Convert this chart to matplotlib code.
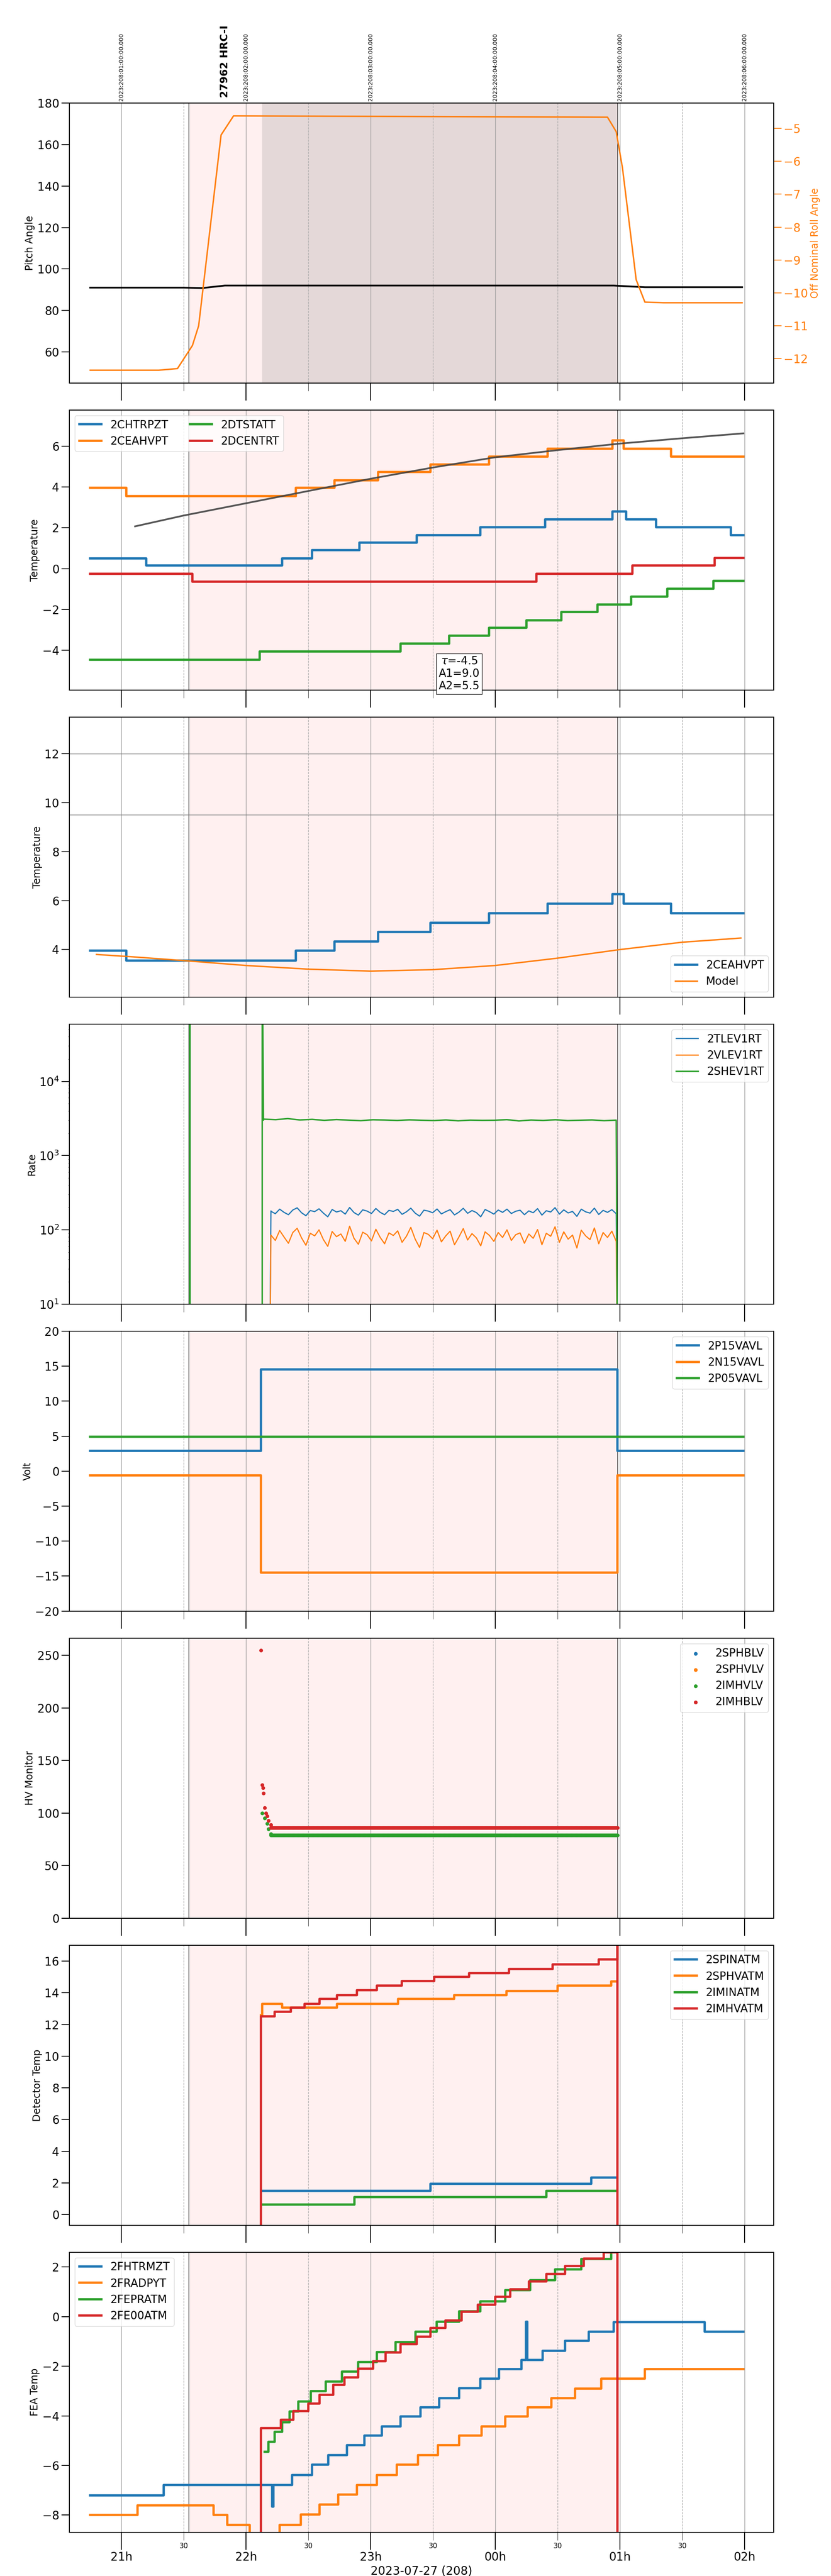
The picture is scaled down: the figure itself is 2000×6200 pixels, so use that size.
import numpy as np
import matplotlib
matplotlib.use("Agg")
import matplotlib.pyplot as plt

# time axis in hours (24 = 00h next day)
T0, T1 = 20.583, 26.233
HOURS = [21, 22, 23, 24, 25, 26]
HOUR_LABELS = ["21h", "22h", "23h", "00h", "01h", "02h"]
HALF_HOURS = [21.5, 22.5, 23.5, 24.5, 25.5]
TOP_LABELS = ["2023:208:01:00:00.000", "2023:208:02:00:00.000", "2023:208:03:00:00.000",
              "2023:208:04:00:00.000", "2023:208:05:00:00.000", "2023:208:06:00:00.000"]
OBS_START, OBS_END, SCI_START = 21.54, 24.98, 22.13

# panel 1: pitch / roll
pitch_t = [20.75, 21.5, 21.65, 21.83, 24.95, 25.2, 25.98]
pitch_v = [91.0, 91.0, 90.8, 92.0, 92.0, 91.2, 91.2]
roll_t = [20.75, 21.3, 21.45, 21.57, 21.62, 21.8, 21.9, 24.9, 24.97, 25.02, 25.13, 25.2, 25.35, 25.98]
roll_v = [-12.35, -12.35, -12.3, -11.6, -11.0, -5.2, -4.62, -4.66, -5.1, -6.2, -9.6, -10.28, -10.3, -10.3]

# panel 2: temperatures (step change times, levels)
chtrpzt_t = [20.75, 21.2, 22.29, 22.53, 22.91, 23.37, 23.88, 24.40, 24.94, 25.05, 25.29, 25.89, 25.99]
chtrpzt_v = [0.5, 0.15, 0.5, 0.9, 1.27, 1.65, 2.03, 2.42, 2.8, 2.42, 2.03, 1.65, 1.65]
ceahvpt_t = [20.75, 21.04, 22.40, 22.71, 23.06, 23.48, 23.95, 24.42, 24.94, 25.03, 25.41, 25.99]
ceahvpt_v = [3.95, 3.55, 3.95, 4.33, 4.72, 5.1, 5.48, 5.87, 6.27, 5.87, 5.48, 5.48]
dtstatt_t = [20.75, 22.11, 23.24, 23.63, 23.95, 24.25, 24.53, 24.82, 25.09, 25.38, 25.75, 25.99]
dtstatt_v = [-4.45, -4.05, -3.67, -3.28, -2.9, -2.52, -2.13, -1.75, -1.37, -0.98, -0.6, -0.6]
dcentrt_t = [20.75, 21.57, 24.33, 25.10, 25.76, 25.99]
dcentrt_v = [-0.25, -0.63, -0.25, 0.15, 0.52, 0.52]
fit_t = [21.11, 21.5, 22.0, 22.5, 23.0, 23.5, 24.0, 24.5, 25.0, 25.5, 25.99]
fit_v = [2.07, 2.6, 3.2, 3.8, 4.4, 4.95, 5.45, 5.8, 6.12, 6.38, 6.62]

# panel 3: model
model_t = [20.8, 21.1, 21.5, 22.0, 22.5, 23.0, 23.5, 24.0, 24.5, 25.0, 25.5, 25.97]
model_v = [3.8, 3.7, 3.55, 3.35, 3.2, 3.12, 3.18, 3.35, 3.65, 4.0, 4.3, 4.47]

# panel 4: rates (hand-read samples)
tlev = [178, 165, 190, 172, 160, 185, 198, 170, 155, 182, 176, 192, 168, 150, 188, 174, 181, 163, 200, 171,
        158, 186, 179, 166, 194, 172, 160, 183, 177, 189, 162, 175, 196, 168, 153, 184, 179, 170, 191, 164,
        176, 187, 159, 173, 195, 167, 182, 171, 150, 188, 176, 163, 185, 172, 190, 166, 178, 184, 160, 180,
        170, 193, 158, 181, 174, 199, 163, 186, 169, 177, 152, 190, 175, 168, 196, 161, 183, 172, 187, 165]
vlev = [85, 72, 98, 80, 66, 92, 105, 78, 62, 90, 83, 100, 74, 60, 95, 81, 88, 70, 112, 77,
        64, 93, 86, 71, 102, 79, 65, 91, 84, 97, 68, 82, 108, 75, 58, 92, 87, 76, 99, 69,
        83, 96, 63, 80, 104, 73, 89, 78, 61, 94, 84, 70, 92, 79, 100, 72, 86, 91, 66, 88,
        77, 101, 63, 90, 82, 110, 68, 94, 75, 85, 57, 99, 83, 74, 106, 65, 92, 79, 96, 70]
shev = [3100, 3050, 3150, 3020, 3080, 2980, 3060, 3000, 2950, 3040, 3010, 2970, 3030, 2990, 2960, 3020, 2940, 3000,
        2980, 2990, 3050, 2930, 3010, 2970, 3040, 2960, 2990, 3020, 2950, 3000]

# panel 5: voltages
volt_t = [20.75, 22.12, 24.98, 25.99]
p15 = [2.9, 14.5, 2.9, 2.9]
n15 = [-0.6, -14.5, -0.6, -0.6]
p05 = [4.9, 4.9, 4.9, 4.9]

# panel 6: HV monitor
imhb_t = [22.12, 22.13, 22.135, 22.14, 22.15, 22.16, 22.17, 22.18, 22.2]
imhb_v = [255, 127, 124, 119, 105, 100, 97, 93, 89]
imhv_t = [22.13, 22.15, 22.17, 22.18, 22.2]
imhv_v = [100, 95, 90, 85, 80]
IMHB_LEVEL, IMHV_LEVEL = 86, 79

# panel 7: detector temps
imhvatm_t = [22.12, 22.12, 22.23, 22.36, 22.47, 22.59, 22.73, 22.89, 23.05, 23.25, 23.51, 23.79, 24.11, 24.46, 24.83, 24.97, 24.98, 24.98]
imhvatm_v = [-5, 12.5, 12.8, 13.05, 13.3, 13.6, 13.85, 14.15, 14.45, 14.75, 15.0, 15.25, 15.5, 15.8, 16.1, 16.1, 30, -5]
sphvatm_t = [22.12, 22.13, 22.29, 22.73, 23.22, 23.67, 24.09, 24.5, 24.93, 24.97]
sphvatm_v = [12.6, 13.3, 13.05, 13.3, 13.6, 13.85, 14.1, 14.45, 14.7, 14.7]
spinatm_t = [22.13, 23.48, 24.77, 24.97]
spinatm_v = [1.5, 1.95, 2.35, 2.35]
iminatm_t = [22.13, 22.87, 24.41, 24.97]
iminatm_v = [0.65, 1.1, 1.5, 1.5]

# panel 8: FEA temps
fhtrmzt_t = [20.75, 21.34, 22.20, 22.21, 22.22, 22.37, 22.53, 22.66, 22.81, 22.95, 23.09, 23.24, 23.40, 23.55, 23.71, 23.88,
             24.03, 24.21, 24.245, 24.255, 24.38, 24.56, 24.75, 24.95, 25.68, 25.99]
fhtrmzt_v = [-7.2, -6.78, -6.78, -7.65, -6.78, -6.38, -5.97, -5.58, -5.18, -4.8, -4.42, -4.03, -3.65, -3.28, -2.88, -2.5,
             -2.12, -1.75, -0.2, -1.75, -1.37, -0.98, -0.6, -0.22, -0.6, -0.6]
fradpyt_t = [20.75, 21.13, 21.74, 21.85, 22.03, 22.27, 22.44, 22.59, 22.74, 22.89, 23.05, 23.21, 23.38, 23.54, 23.71,
             23.89, 24.08, 24.26, 24.45, 24.64, 24.85, 25.2, 25.99]
fradpyt_v = [-8.0, -7.6, -8.0, -8.4, -8.8, -8.4, -7.97, -7.58, -7.18, -6.78, -6.38, -5.97, -5.58, -5.18, -4.8,
             -4.42, -4.03, -3.65, -3.28, -2.9, -2.5, -2.12, -2.12]
fepratm_t = [22.15, 22.18, 22.23, 22.29, 22.35, 22.42, 22.52, 22.64, 22.77, 22.9, 23.05, 23.2, 23.36, 23.53, 23.71,
             23.88, 24.08, 24.28, 24.48, 24.69, 24.93]
fepratm_v = [-5.45, -5.05, -4.65, -4.25, -3.82, -3.42, -3.0, -2.62, -2.22, -1.82, -1.42, -1.02, -0.6, -0.2, 0.22,
             0.62, 1.07, 1.48, 1.9, 2.32, 2.7]
fe00atm_t = [22.12, 22.12, 22.28, 22.38, 22.5, 22.59, 22.7, 22.79, 22.9, 23.02, 23.12, 23.24, 23.37, 23.48, 23.6,
             23.73, 23.86, 24.0, 24.12, 24.27, 24.41, 24.56, 24.71, 24.87, 24.97, 24.98, 24.98]
fe00atm_v = [-12, -4.5, -4.15, -3.8, -3.5, -3.15, -2.75, -2.45, -2.1, -1.8, -1.45, -1.1, -0.8, -0.45, -0.15,
             0.2, 0.48, 0.8, 1.1, 1.42, 1.72, 2.05, 2.35, 2.6, 2.6, 10, -12]

plt.rcParams["font.size"] = 18

fig, axes = plt.subplots(8, 1, figsize=(20, 62), dpi=100, sharex=True)
fig.subplots_adjust(left=0.0835, right=0.931, top=0.96, bottom=0.017, hspace=0.0965)

LAB = 17
LEG = 19


def decorate(ax, dark=False):
    ax.axvspan(OBS_START, OBS_END, color="#fff0f0", zorder=0)
    if dark:
        ax.axvspan(SCI_START, OBS_END, color="#e4d8d8", zorder=0)
    for h in HOURS:
        ax.axvline(h, color="#999999", lw=1, zorder=0.5)
    for h in HALF_HOURS:
        ax.axvline(h, color="#aaaaaa", lw=1, ls="--", zorder=0.5)
    ax.axvline(OBS_START, color="black", lw=0.8, zorder=0.6)
    ax.axvline(OBS_END, color="black", lw=0.8, zorder=0.6)
    ax.tick_params(axis="both", which="major", length=14, width=1.5, labelsize=20)
    ax.tick_params(axis="x", which="major", length=30)
    ax.tick_params(axis="x", which="minor", length=14, labelsize=12)
    for s in ax.spines.values():
        s.set_linewidth(1.5)


C = ["#1f77b4", "#ff7f0e", "#2ca02c", "#d62728"]

# panel 1
ax = axes[0]
decorate(ax, dark=True)
ax.plot(pitch_t, pitch_v, color="black", lw=3)
ax.set_ylim(45, 180)
ax.set_ylabel("Pitch Angle", fontsize=LAB)
ax2 = ax.twinx()
ax2.plot(roll_t, roll_v, color=C[1], lw=2.5)
ax2.set_ylim(-12.74, -4.23)
ax2.set_ylabel("Off Nominal Roll Angle", color=C[1], fontsize=LAB)
ax2.tick_params(axis="y", colors=C[1], length=14, width=1.5, labelsize=20)
top = ax.secondary_xaxis("top")
top.set_xticks(HOURS)
top.set_xticklabels(TOP_LABELS, rotation=90, fontsize=10)
top.tick_params(length=0)
ax.text(21.83, 1.02, "27962 HRC-I", transform=ax.get_xaxis_transform(), rotation=90,
        ha="center", va="bottom", fontsize=18, fontweight="bold")

# panel 2
ax = axes[1]
decorate(ax)
ax.step(chtrpzt_t, chtrpzt_v, where="post", color=C[0], lw=4, label="2CHTRPZT")
ax.step(ceahvpt_t, ceahvpt_v, where="post", color=C[1], lw=4, label="2CEAHVPT")
ax.step(dtstatt_t, dtstatt_v, where="post", color=C[2], lw=4, label="2DTSTATT")
ax.step(dcentrt_t, dcentrt_v, where="post", color=C[3], lw=4, label="2DCENTRT")
ax.plot(fit_t, fit_v, color="#444444", lw=3, alpha=0.9)
ax.set_ylim(-5.94, 7.76)
ax.set_ylabel("Temperature", fontsize=LAB)
ax.legend(loc="upper left", ncol=2, fontsize=LEG)
ax.text(23.71, -5.15, "$\\tau$=-4.5\nA1=9.0\nA2=5.5", ha="center", va="center", fontsize=19,
        bbox=dict(facecolor="white", edgecolor="black"), clip_on=False, zorder=5)

# panel 3
ax = axes[2]
decorate(ax)
ax.axhline(12, color="#777777", lw=1)
ax.axhline(9.5, color="#777777", lw=1)
ax.step(ceahvpt_t, ceahvpt_v, where="post", color=C[0], lw=4, label="2CEAHVPT")
ax.plot(model_t, model_v, color=C[1], lw=2.5, label="Model")
ax.set_ylim(2.06, 13.49)
ax.set_ylabel("Temperature", fontsize=LAB)
ax.legend(loc="lower right", fontsize=LEG)

# panel 4
ax = axes[3]
decorate(ax)
rt = np.linspace(22.2, 24.97, len(tlev))
st = np.linspace(22.14, 24.97, len(shev))
ax.plot(np.r_[22.19, 22.2, rt, 24.98], np.r_[1, 180, tlev, 1], color=C[0], lw=2, label="2TLEV1RT")
ax.plot(np.r_[22.19, 22.2, rt, 24.98], np.r_[1, 85, vlev, 1], color=C[1], lw=2, label="2VLEV1RT")
ax.plot(np.r_[21.55, 21.55, 21.551, 22.13, 22.13, 22.14, st, 24.98],
        np.r_[1, 1e6, 1, 1, 1e6, 3000, shev, 1], color=C[2], lw=2.5, label="2SHEV1RT")
ax.set_yscale("log")
ax.set_ylim(10, 5.9e4)
ax.set_ylabel("Rate", fontsize=LAB)
ax.legend(loc="upper right", fontsize=LEG)

# panel 5
ax = axes[4]
decorate(ax)
ax.step(volt_t, p15, where="post", color=C[0], lw=4, label="2P15VAVL")
ax.step(volt_t, n15, where="post", color=C[1], lw=4, label="2N15VAVL")
ax.step(volt_t, p05, where="post", color=C[2], lw=4, label="2P05VAVL")
ax.set_ylim(-20, 20)
ax.set_ylabel("Volt", fontsize=LAB)
ax.legend(loc="upper right", fontsize=LEG)

# panel 6
ax = axes[5]
decorate(ax)
lvl_t = np.arange(22.2, 24.985, 0.01)
ax.scatter([], [], s=30, color=C[0], label="2SPHBLV")
ax.scatter([], [], s=30, color=C[1], label="2SPHVLV")
ax.scatter(np.r_[imhv_t, lvl_t], np.r_[imhv_v, [IMHV_LEVEL] * len(lvl_t)], s=30, color=C[2], label="2IMHVLV")
ax.scatter(np.r_[imhb_t, lvl_t], np.r_[imhb_v, [IMHB_LEVEL] * len(lvl_t)], s=30, color=C[3], label="2IMHBLV")
ax.set_ylim(0, 266.5)
ax.set_ylabel("HV Monitor", fontsize=LAB)
ax.legend(loc="upper right", fontsize=LEG)

# panel 7
ax = axes[6]
decorate(ax)
ax.step(spinatm_t, spinatm_v, where="post", color=C[0], lw=4, label="2SPINATM")
ax.step(sphvatm_t, sphvatm_v, where="post", color=C[1], lw=4, label="2SPHVATM")
ax.step(iminatm_t, iminatm_v, where="post", color=C[2], lw=4, label="2IMINATM")
ax.step(imhvatm_t, imhvatm_v, where="post", color=C[3], lw=4, label="2IMHVATM")
ax.set_ylim(-0.66, 17.0)
ax.set_ylabel("Detector Temp", fontsize=LAB)
ax.legend(loc="upper right", fontsize=LEG)

# panel 8
ax = axes[7]
decorate(ax)
ax.step(fhtrmzt_t, fhtrmzt_v, where="post", color=C[0], lw=4, label="2FHTRMZT")
ax.step(fradpyt_t, fradpyt_v, where="post", color=C[1], lw=4, label="2FRADPYT")
ax.step(fepratm_t, fepratm_v, where="post", color=C[2], lw=4, label="2FEPRATM")
ax.step(fe00atm_t, fe00atm_v, where="post", color=C[3], lw=4, label="2FE00ATM")
ax.set_ylim(-8.69, 2.6)
ax.set_ylabel("FEA Temp", fontsize=LAB)
ax.legend(loc="upper left", fontsize=LEG)

ax.set_xticks(HOURS)
ax.set_xticklabels(HOUR_LABELS)
ax.set_xticks(HALF_HOURS, minor=True)
ax.set_xticklabels(["30"] * len(HALF_HOURS), minor=True)
ax.set_xlabel("2023-07-27 (208)", fontsize=20)
ax.set_xlim(T0, T1)

fig.savefig("out.png", dpi=100)
